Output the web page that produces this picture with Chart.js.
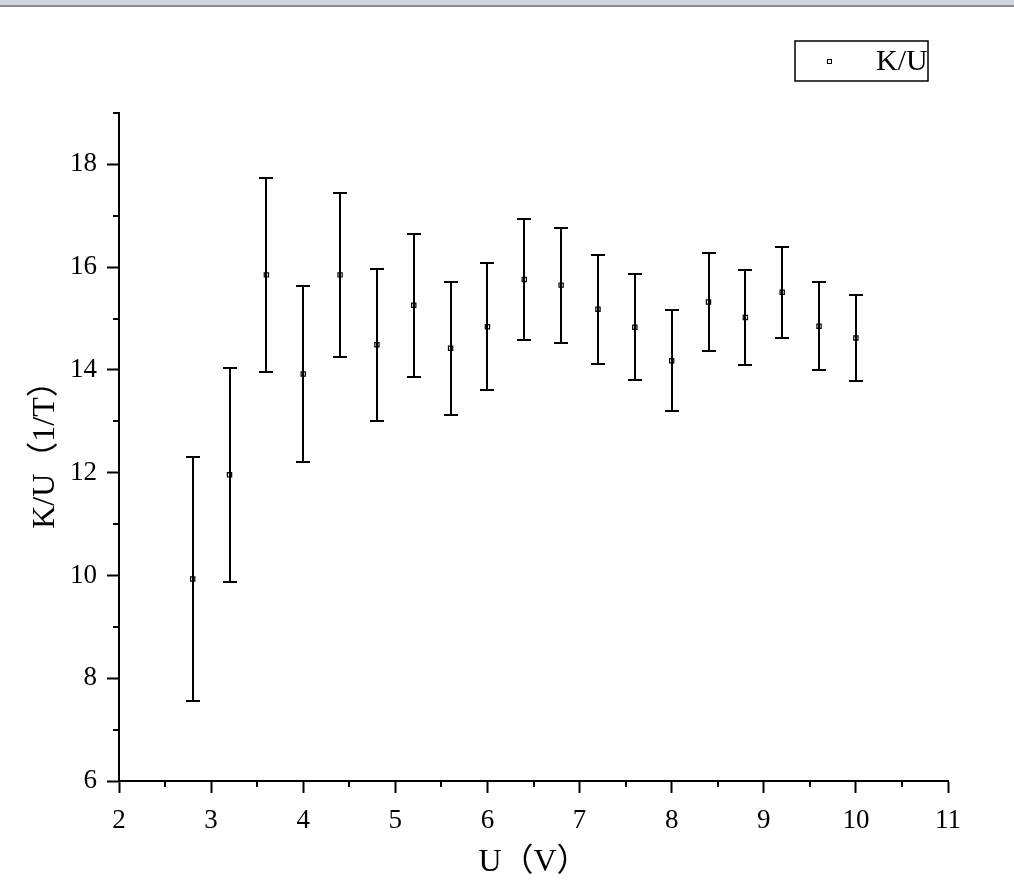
<!DOCTYPE html>
<html>
<head>
<meta charset="utf-8">
<script src="https://cdn.jsdelivr.net/npm/chart.js@4/dist/chart.umd.min.js"></script>
<style>
  html, body { margin: 0; padding: 0; background: #fff; }
  #strip { position: absolute; left: 0; top: 0; width: 1014px; height: 5px; background: #cfd6e0; border-bottom: 2px solid #8a8a8a; }
  #wrap { position: relative; width: 1014px; height: 884px; }
</style>
</head>
<body>
<div id="wrap">
  <canvas id="chart" width="1014" height="884"></canvas>
  <div id="strip"></div>
</div>
<script>
// U (V) values
const uValues = [2.8, 3.2, 3.6, 4.0, 4.4, 4.8, 5.2, 5.6, 6.0, 6.4, 6.8, 7.2, 7.6, 8.0, 8.4, 8.8, 9.2, 9.6, 10.0];
// K/U (1/T)
const kuValues = [9.93, 11.96, 15.85, 13.92, 15.85, 14.49, 15.26, 14.42, 14.84, 15.76, 15.65, 15.18, 14.83, 14.18, 15.32, 15.02, 15.51, 14.85, 14.62];
// error (+/-)
const kuErrors = [2.37, 2.08, 1.89, 1.71, 1.59, 1.48, 1.39, 1.30, 1.24, 1.17, 1.12, 1.06, 1.03, 0.98, 0.95, 0.92, 0.885, 0.855, 0.84];

const xMinorTicks = [2.5, 3.5, 4.5, 5.5, 6.5, 7.5, 8.5, 9.5, 10.5];
const yMinorTicks = [7, 9, 11, 13, 15, 17, 19];

const seriesLabel = 'K/U';
const xTitle = 'U（V）';
const yTitle = 'K/U（1/T）';

const FONT = "'Liberation Serif', 'Noto Sans CJK SC', serif";

// error bars, drawn over the markers like the original
const errorBars = {
    id: 'errorBars',
    afterDatasetsDraw(chart) {
        const ctx = chart.ctx;
        const x = chart.scales.x, y = chart.scales.y;
        ctx.save();
        ctx.strokeStyle = '#000';
        ctx.lineWidth = 2;
        uValues.forEach((v, i) => {
            const px = Math.round(x.getPixelForValue(v));
            const top = Math.round(y.getPixelForValue(kuValues[i] + kuErrors[i]));
            const bot = Math.round(y.getPixelForValue(kuValues[i] - kuErrors[i]));
            ctx.beginPath();
            ctx.moveTo(px, top - 1); ctx.lineTo(px, bot + 1);
            ctx.moveTo(px - 7, top); ctx.lineTo(px + 7, top);
            ctx.moveTo(px - 7, bot); ctx.lineTo(px + 7, bot);
            ctx.stroke();
        });
        ctx.restore();
    }
};

// short outward minor ticks
const minorTicks = {
    id: 'minorTicks',
    afterDraw(chart) {
        const ctx = chart.ctx;
        const x = chart.scales.x, y = chart.scales.y;
        const area = chart.chartArea;
        ctx.save();
        ctx.strokeStyle = '#000';
        ctx.lineWidth = 2;
        ctx.beginPath();
        xMinorTicks.forEach(v => {
            const px = Math.round(x.getPixelForValue(v));
            ctx.moveTo(px, area.bottom); ctx.lineTo(px, area.bottom + 6);
        });
        yMinorTicks.forEach(v => {
            const py = Math.round(y.getPixelForValue(v));
            ctx.moveTo(area.left - 6, py); ctx.lineTo(area.left, py);
        });
        ctx.stroke();
        ctx.restore();
    }
};

// boxed legend in the top right corner
const legendBox = {
    id: 'legendBox',
    afterDraw(chart) {
        const ctx = chart.ctx;
        ctx.save();
        ctx.strokeStyle = '#000';
        ctx.lineWidth = 1.5;
        ctx.strokeRect(795, 41, 133, 40);
        ctx.lineWidth = 1;
        ctx.strokeRect(827.5, 59.5, 4, 4);
        ctx.fillStyle = '#000';
        ctx.font = '30px ' + FONT;
        ctx.textBaseline = 'middle';
        ctx.fillText(seriesLabel, 876, 62);
        ctx.restore();
    }
};

const tickFont = { family: FONT, size: 27 };
const titleFont = { family: FONT, size: 32 };

new Chart(document.getElementById('chart').getContext('2d'), {
    type: 'scatter',
    data: {
        datasets: [{
            label: seriesLabel,
            data: uValues.map((u, i) => ({ x: u, y: kuValues[i] })),
            pointStyle: 'rect',
            pointRadius: 3,
            borderColor: '#000',
            borderWidth: 1.2,
            backgroundColor: '#fff',
            showLine: false
        }]
    },
    options: {
        responsive: false,
        animation: false,
        layout: { padding: { left: 0, top: 113, right: 66, bottom: 0 } },
        plugins: {
            legend: { display: false },
            tooltip: { enabled: false }
        },
        scales: {
            x: {
                type: 'linear',
                min: 2,
                max: 11,
                ticks: { stepSize: 1, font: tickFont, color: '#000', padding: 12, maxRotation: 0 },
                grid: { display: true, drawOnChartArea: false, drawTicks: true, tickLength: 12, tickWidth: 2, tickColor: '#000' },
                border: { display: true, color: '#000', width: 2 },
                title: { display: true, text: xTitle, font: titleFont, color: '#000', padding: { top: 0, bottom: 2 } },
                afterFit: s => { s.height = 103; }
            },
            y: {
                type: 'linear',
                min: 6,
                max: 19,
                ticks: { stepSize: 1, font: tickFont, color: '#000', padding: 10 },
                afterBuildTicks: s => { s.ticks = s.ticks.filter(t => t.value % 2 === 0); },
                grid: { display: true, drawOnChartArea: false, drawTicks: true, tickLength: 12, tickWidth: 2, tickColor: '#000' },
                border: { display: true, color: '#000', width: 2 },
                title: { display: true, text: yTitle, font: titleFont, color: '#000', padding: { top: 26, bottom: 0 } },
                afterFit: s => { s.width = 119; }
            }
        }
    },
    plugins: [errorBars, minorTicks, legendBox]
});
</script>
</body>
</html>
